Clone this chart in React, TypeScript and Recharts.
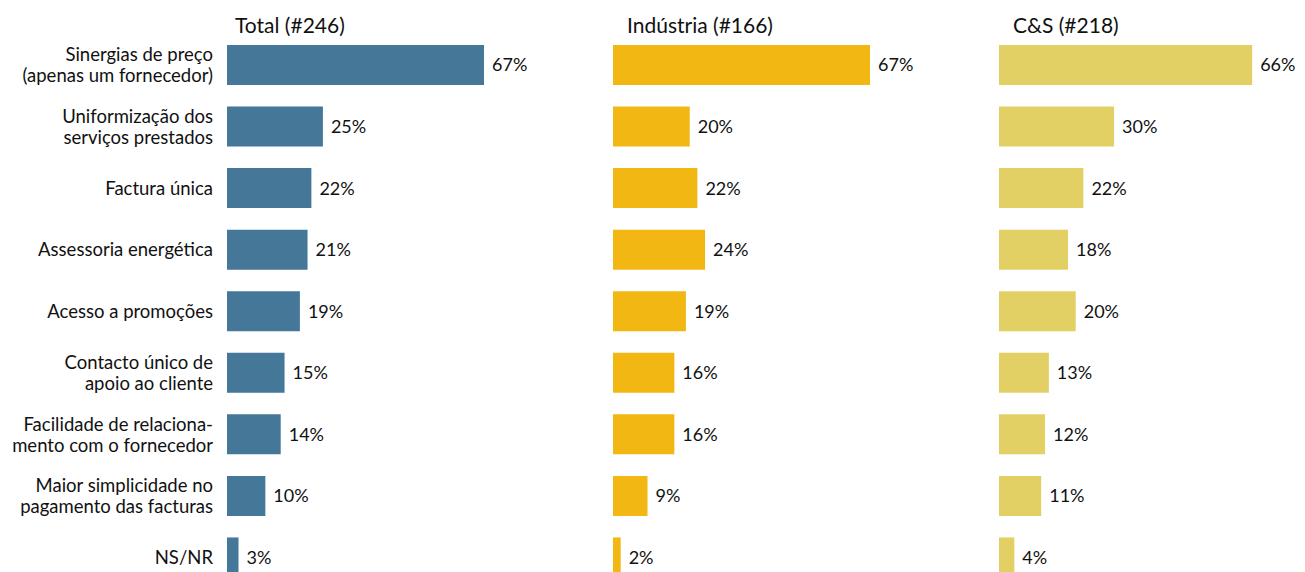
import React from 'react';
import { BarChart, Bar, XAxis, YAxis, LabelList } from 'recharts';

const categories = [
  'Sinergias de preço\n(apenas um fornecedor)',
  'Uniformização dos\nserviços prestados',
  'Factura única',
  'Assessoria energética',
  'Acesso a promoções',
  'Contacto único de\napoio ao cliente',
  'Facilidade de relaciona-\nmento com o fornecedor',
  'Maior simplicidade no\npagamento das facturas',
  'NS/NR',
];

const totalValues = [67, 25, 22, 21, 19, 15, 14, 10, 3];
const industriaValues = [67, 20, 22, 24, 19, 16, 16, 9, 2];
const csValues = [66, 30, 22, 18, 20, 13, 12, 11, 4];

const panelTitles = ['Total (#246)', 'Indústria (#166)', 'C&S (#218)'];
const panelColors = ['#457798', '#F2B713', '#E3D065'];

const FONT = 'Lato, "Liberation Sans", sans-serif';
const CHART_H = 590;
const MARGIN_TOP = 34;
const PLOT_W = 257;
const LABEL_SPACE = 70;
const Y_AXIS_W = 227;

const buildRows = (values: number[]) =>
  categories.map((cat, i) => ({ cat, value: values[i] }));

const CategoryTick = ({ x, y, payload }: any) => {
  const lines = String(payload.value).split('\n');
  const lh = 21;
  const start = -((lines.length - 1) * lh) / 2;
  return (
    <text x={x - 6} y={y} textAnchor="end" fill="#111" fontSize={18.5} fontFamily={FONT}>
      {lines.map((l, i) => (
        <tspan key={i} x={x - 6} y={y + start + i * lh} dy="0.38em">
          {l}
        </tspan>
      ))}
    </text>
  );
};

const Panel = ({ values, color, withAxis }: { values: number[]; color: string; withAxis: boolean }) => {
  const w = (withAxis ? Y_AXIS_W : 0) + PLOT_W + LABEL_SPACE;
  return (
    <BarChart
      width={w}
      height={CHART_H}
      layout="vertical"
      data={buildRows(values)}
      margin={{ top: MARGIN_TOP, right: LABEL_SPACE, bottom: 2, left: 0 }}
      barCategoryGap={0}
    >
      <XAxis type="number" domain={[0, 67]} hide />
      <YAxis
        type="category"
        dataKey="cat"
        width={withAxis ? Y_AXIS_W : 0}
        hide={!withAxis}
        axisLine={false}
        tickLine={false}
        interval={0}
        tick={<CategoryTick />}
      />
      <Bar dataKey="value" fill={color} barSize={40} isAnimationActive={false}>
        <LabelList
          dataKey="value"
          position="right"
          offset={8}
          formatter={(v: any) => `${v}%`}
          style={{ fill: '#111', fontSize: 18, fontFamily: FONT }}
        />
      </Bar>
    </BarChart>
  );
};

const panelLefts = [0, 613, 999];
const titleLefts = [235, 627, 1013];
const panelValues = [totalValues, industriaValues, csValues];

export default function App() {
  return (
    <div
      style={{
        position: 'absolute',
        left: 0,
        top: 0,
        width: 1305,
        height: 572,
        overflow: 'hidden',
        background: '#fff',
        fontFamily: FONT,
      }}
    >
      {panelValues.map((vals, i) => (
        <div key={i} style={{ position: 'absolute', left: panelLefts[i], top: 0 }}>
          <Panel values={vals} color={panelColors[i]} withAxis={i === 0} />
        </div>
      ))}
      {panelTitles.map((t, i) => (
        <div
          key={t}
          style={{
            position: 'absolute',
            left: titleLefts[i],
            top: 10,
            fontSize: 21,
            lineHeight: '30px',
            color: '#111',
          }}
        >
          {t}
        </div>
      ))}
    </div>
  );
}
